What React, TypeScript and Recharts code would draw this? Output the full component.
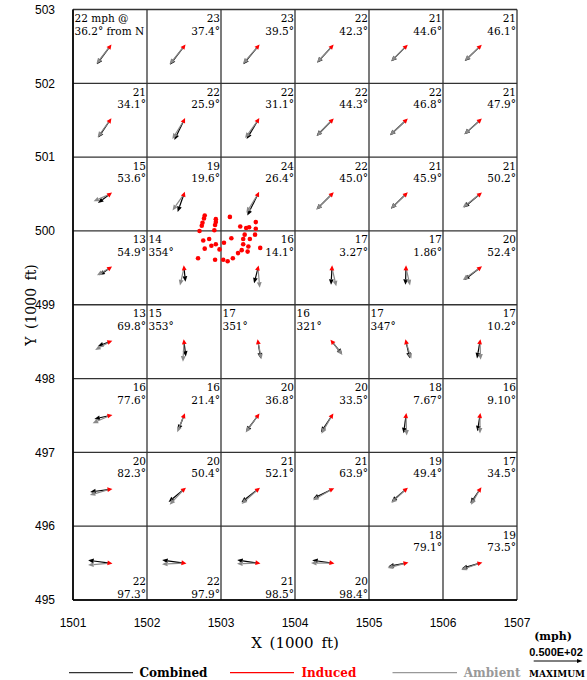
import React from 'react';
import { ScatterChart, Scatter, XAxis, YAxis, CartesianGrid } from 'recharts';

// ---- axes ----
const X_TICKS = [1501, 1502, 1503, 1504, 1505, 1506, 1507];
const Y_TICKS = [495, 496, 497, 498, 499, 500, 501, 502, 503];
const X_HALF = [1501.5, 1502.5, 1503.5, 1504.5, 1505.5, 1506.5];
const Y_HALF = [495.5, 496.5, 497.5, 498.5, 499.5, 500.5, 501.5, 502.5];

// ---- cells: lower-left corners ----
const COLS = [1501, 1502, 1503, 1504, 1505, 1506];
const ROWS = [502, 501, 500, 499, 498, 497, 496, 495];

// combined wind speed (mph), per row (top to bottom) and column
const COMBINED_SPEED = [
  [22, 23, 23, 22, 21, 21],
  [21, 22, 22, 22, 22, 21],
  [15, 19, 24, 22, 21, 21],
  [13, 14, 16, 17, 17, 20],
  [13, 15, 17, 16, 17, 17],
  [16, 16, 20, 20, 18, 16],
  [20, 20, 21, 21, 19, 17],
  [22, 22, 21, 20, 18, 19],
];
// combined wind direction (degrees from N), as printed
const COMBINED_DIR = [
  ['36.2', '37.4', '39.5', '42.3', '44.6', '46.1'],
  ['34.1', '25.9', '31.1', '44.3', '46.8', '47.9'],
  ['53.6', '19.6', '26.4', '45.0', '45.9', '50.2'],
  ['54.9', '354', '14.1', '3.27', '1.86', '52.4'],
  ['69.8', '353', '351', '321', '347', '10.2'],
  ['77.6', '21.4', '36.8', '33.5', '7.67', '9.10'],
  ['82.3', '50.4', '52.1', '63.9', '49.4', '34.5'],
  ['97.3', '97.9', '98.5', '98.4', '79.1', '73.5'],
];
// ambient wind (estimated from the gray arrows)
const AMBIENT_SPEED = [
  [22, 23, 23, 22, 21, 21],
  [21, 22, 22, 22, 22, 21],
  [18, 20, 22, 22, 21, 22],
  [15, 18, 20, 19, 18, 21],
  [17, 20, 18, 17, 18, 18],
  [19, 18, 21, 21, 20, 18],
  [21, 21, 22, 22, 20, 18],
  [22, 22, 21, 21, 19, 20],
];
const AMBIENT_DIR = [
  [38, 39, 41, 43, 45, 47],
  [36, 32, 36, 44, 47, 48],
  [66, 35, 32, 45, 46, 52],
  [60, 13, 355, 347, 347, 55],
  [61, 3, 349, 322, 343, 358],
  [66, 22, 36, 30, 358, 0],
  [74, 43, 48, 60, 47, 30],
  [85, 87, 88, 90, 75, 70],
];
// where each cell's text sits: tr = top right, tl = top left, br = bottom right
const LABEL_PLACE = [
  ['tl', 'tr', 'tr', 'tr', 'tr', 'tr'],
  ['tr', 'tr', 'tr', 'tr', 'tr', 'tr'],
  ['tr', 'tr', 'tr', 'tr', 'tr', 'tr'],
  ['tr', 'tl', 'tr', 'tr', 'tr', 'tr'],
  ['tr', 'tl', 'tl', 'tl', 'tl', 'tr'],
  ['tr', 'tr', 'tr', 'tr', 'tr', 'tr'],
  ['tr', 'tr', 'tr', 'tr', 'tr', 'tr'],
  ['br', 'br', 'br', 'br', 'tr', 'tr'],
];

// ---- red scatter points ----
const DOT_X = [1502.78, 1502.77, 1502.75, 1502.74, 1502.71, 1502.93, 1502.93, 1502.92, 1502.91, 1503.12, 1503.26, 1503.34, 1503.38, 1503.47, 1503.47, 1502.76, 1502.84, 1502.78, 1502.87, 1502.93, 1502.98, 1503.04, 1503.14, 1503.32, 1503.30, 1503.39, 1503.46, 1503.30, 1503.37, 1503.36, 1503.53, 1503.28, 1503.23, 1503.16, 1503.09, 1503.03, 1502.92, 1502.69];
const DOT_Y = [500.21, 500.17, 500.11, 500.07, 500.00, 500.16, 500.12, 500.08, 500.01, 500.19, 500.06, 500.04, 500.05, 500.12, 500.03, 499.87, 499.89, 499.76, 499.80, 499.82, 499.75, 499.84, 499.90, 499.95, 499.89, 499.89, 499.95, 499.82, 499.79, 499.72, 499.77, 499.74, 499.70, 499.63, 499.59, 499.61, 499.61, 499.63];

const PX_PER_MPH = 1.0;

const cellData = ROWS.flatMap((ry, r) =>
  COLS.map((cx, c) => ({
    x: cx + 0.5,
    y: ry + 0.5,
    cs: COMBINED_SPEED[r][c],
    cd: Number(COMBINED_DIR[r][c]),
    as: AMBIENT_SPEED[r][c],
    ad: AMBIENT_DIR[r][c],
  }))
);

const labelData = ROWS.flatMap((ry, r) =>
  COLS.map((cx, c) => {
    const place = LABEL_PLACE[r][c];
    const first = r === 0 && c === 0;
    return {
      x: place === 'tl' ? cx : cx + 1,
      y: place === 'br' ? ry : ry + 1,
      place,
      top: first ? `${COMBINED_SPEED[r][c]} mph @` : `${COMBINED_SPEED[r][c]}`,
      bottom: first ? `${COMBINED_DIR[r][c]}\u00b0 from N` : `${COMBINED_DIR[r][c]}\u00b0`,
    };
  })
);

const dotData = DOT_X.map((x, i) => ({ x, y: DOT_Y[i] }));

function vec(speed: number, fromDeg: number): [number, number] {
  const t = ((fromDeg + 180) * Math.PI) / 180;
  return [Math.sin(t) * speed * PX_PER_MPH, -Math.cos(t) * speed * PX_PER_MPH];
}

function arrow(x: number, y: number, v: [number, number], color: string, key: string) {
  const [dx, dy] = v;
  const L = Math.hypot(dx, dy) || 1;
  const ux = dx / L;
  const uy = dy / L;
  const tx = x + dx;
  const ty = y + dy;
  const head = 5.5;
  const hw = 2.4;
  const bx = tx - ux * head;
  const by = ty - uy * head;
  const nx = -uy;
  const ny = ux;
  return (
    <g key={key}>
      <line x1={x} y1={y} x2={bx} y2={by} stroke={color} strokeWidth={1.2} />
      <polygon
        points={`${tx},${ty} ${bx + nx * hw},${by + ny * hw} ${bx - nx * hw},${by - ny * hw}`}
        fill={color}
      />
    </g>
  );
}

const CellArrows = (props: any) => {
  const { cx, cy, payload } = props;
  if (cx == null || cy == null) return null;
  const c = vec(payload.cs, payload.cd);
  const a = vec(payload.as, payload.ad);
  const L = Math.hypot(c[0], c[1]) || 1;
  const ux = c[0] / L;
  const uy = c[1] / L;
  const tx = cx - ux * 2.5;
  const ty = cy - uy * 2.5;
  const bx = cx + ux * 2.5;
  const by = cy + uy * 2.5;
  const nx = -uy;
  const ny = ux;
  return (
    <g>
      {arrow(cx, cy, c, '#000000', 'c')}
      {arrow(cx, cy, a, '#8a8a8a', 'a')}
      <polygon
        points={`${tx},${ty} ${bx + nx * 2.4},${by + ny * 2.4} ${bx - nx * 2.4},${by - ny * 2.4}`}
        fill="#ff0000"
      />
    </g>
  );
};

const CellLabel = (props: any) => {
  const { cx, cy, payload } = props;
  if (cx == null || cy == null) return null;
  let anchor: 'start' | 'end' = 'end';
  let x = cx - 1;
  let y1 = cy + 12.5;
  if (payload.place === 'tl') {
    anchor = 'start';
    x = cx + 1.5;
  }
  if (payload.place === 'br') {
    y1 = cy - 15;
  }
  return (
    <text textAnchor={anchor} fontFamily="DejaVu Serif" fontSize={10.5} fill="#000">
      <tspan x={x} y={y1}>{payload.top}</tspan>
      <tspan x={x} y={y1 + 12.5}>{payload.bottom}</tspan>
    </text>
  );
};

const Dot = (props: any) => {
  const { cx, cy } = props;
  if (cx == null || cy == null) return null;
  return <circle cx={cx} cy={cy} r={2.3} fill="#ff0000" />;
};

const TICK_FONT = { fontFamily: 'Liberation Sans, Arial, sans-serif', fontSize: 12, fill: '#000' };

export default function App() {
  return (
    <div style={{ position: 'relative', width: 587, height: 680 }}>
      <style>{'html,body{margin:0;padding:0;overflow:hidden;}'}</style>
      <ScatterChart
        width={587}
        height={680}
        margin={{ top: 9.5, right: 70, bottom: 50, left: 0 }}
      >
        <CartesianGrid stroke="#333" strokeWidth={1.3} />
        <XAxis
          type="number"
          dataKey="x"
          domain={[1501, 1507]}
          ticks={X_TICKS}
          allowDataOverflow
          height={30}
          tickLine={false}
          tickSize={0}
          tickMargin={18.5}
          axisLine={{ stroke: '#000', strokeWidth: 1.6 }}
          tick={TICK_FONT}
        />
        <YAxis
          type="number"
          dataKey="y"
          domain={[495, 503]}
          ticks={Y_TICKS}
          allowDataOverflow
          width={73}
          tickLine={false}
          tickSize={0}
          tickMargin={18}
          axisLine={{ stroke: '#000', strokeWidth: 1.6 }}
          tick={TICK_FONT}
        />
        <XAxis
          xAxisId="top"
          orientation="top"
          mirror
          type="number"
          domain={[1501, 1507]}
          ticks={X_HALF}
          allowDataOverflow
          height={0}
          tick={false}
          tickSize={5}
          tickLine={{ stroke: '#000' }}
          axisLine={{ stroke: '#000', strokeWidth: 1.6 }}
        />
        <XAxis
          xAxisId="bottomIn"
          orientation="bottom"
          mirror
          type="number"
          domain={[1501, 1507]}
          ticks={X_HALF}
          allowDataOverflow
          height={0}
          tick={false}
          tickSize={5}
          tickLine={{ stroke: '#000' }}
          axisLine={false}
        />
        <YAxis
          yAxisId="right"
          orientation="right"
          mirror
          type="number"
          domain={[495, 503]}
          ticks={Y_HALF}
          allowDataOverflow
          width={0}
          tick={false}
          tickSize={5}
          tickLine={{ stroke: '#000' }}
          axisLine={{ stroke: '#000', strokeWidth: 1.6 }}
        />
        <YAxis
          yAxisId="leftIn"
          orientation="left"
          mirror
          type="number"
          domain={[495, 503]}
          ticks={Y_HALF}
          allowDataOverflow
          width={0}
          tick={false}
          tickSize={5}
          tickLine={{ stroke: '#000' }}
          axisLine={false}
        />
        <Scatter data={labelData} shape={CellLabel} isAnimationActive={false} />
        <Scatter data={cellData} shape={CellArrows} isAnimationActive={false} />
        <Scatter data={dotData} shape={Dot} isAnimationActive={false} />
      </ScatterChart>
      <svg
        width={587}
        height={680}
        style={{ position: 'absolute', left: 0, top: 0, pointerEvents: 'none' }}
      >
        <text x={295} y={648} textAnchor="middle" fontFamily="DejaVu Serif" fontSize={15} wordSpacing={3} fill="#000">
          X (1000 ft)
        </text>
        <text
          x={0}
          y={0}
          transform="translate(36 305) rotate(-90)"
          textAnchor="middle"
          fontFamily="DejaVu Serif"
          fontSize={14}
          wordSpacing={3}
          fill="#000"
        >
          Y (1000 ft)
        </text>
        <line x1={69} y1={672.7} x2={133} y2={672.7} stroke="#333" strokeWidth={1.2} />
        <text x={139.5} y={677} fontFamily="DejaVu Serif" fontWeight="bold" fontSize={12} fill="#000">Combined</text>
        <line x1={230} y1={672.7} x2={294} y2={672.7} stroke="#ff0000" strokeWidth={1.2} />
        <text x={301.5} y={677} fontFamily="DejaVu Serif" fontWeight="bold" fontSize={12} fill="#ff0000">Induced</text>
        <line x1={392.5} y1={672.7} x2={457} y2={672.7} stroke="#999" strokeWidth={1.2} />
        <text x={463.7} y={677} fontFamily="DejaVu Serif" fontWeight="bold" fontSize={12} fill="#999">Ambient</text>
        <text x={553} y={640} textAnchor="middle" fontFamily="DejaVu Serif" fontWeight="bold" fontSize={11} fill="#000">(mph)</text>
        <text x={556} y={655.5} textAnchor="middle" fontFamily="Liberation Sans, Arial, sans-serif" fontWeight="bold" fontSize={11} fill="#000">0.500E+02</text>
        <line x1={533.7} y1={661} x2={578} y2={661} stroke="#000" strokeWidth={1} />
        <polygon points="582.4,661 577,659 577,663" fill="#000" />
        <text x={557} y={676.5} textAnchor="middle" fontFamily="DejaVu Serif" fontWeight="bold" fontSize={9} fill="#000">MAXIMUM</text>
      </svg>
    </div>
  );
}
